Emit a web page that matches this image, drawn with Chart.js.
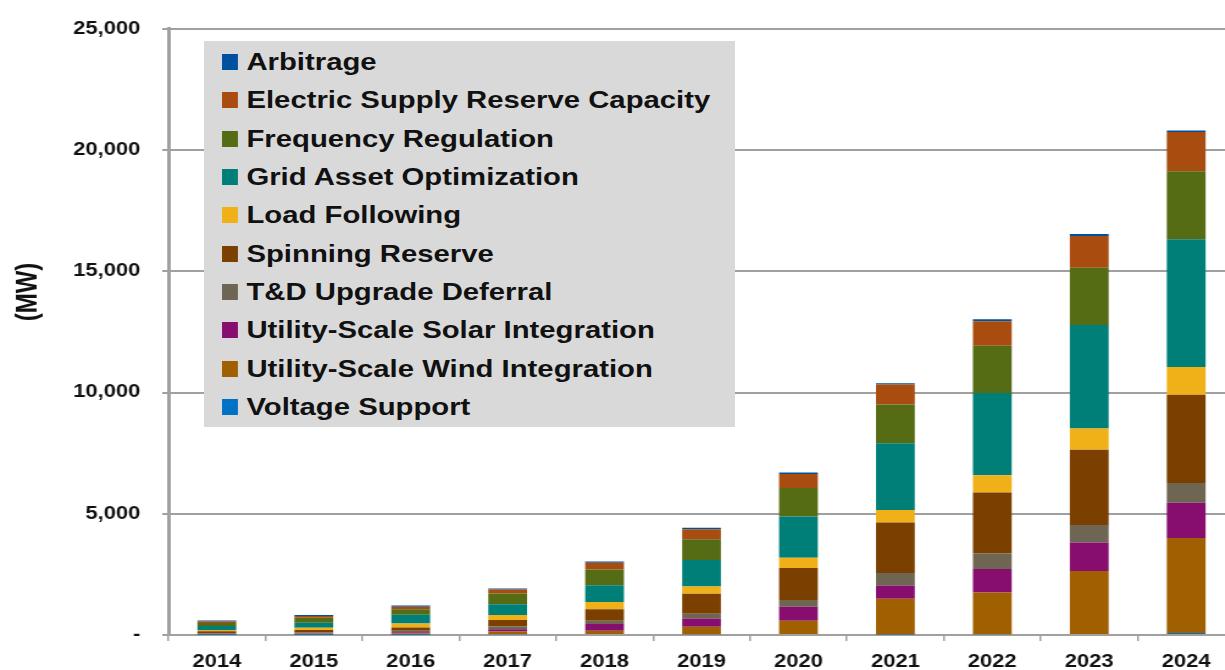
<!DOCTYPE html>
<html lang="en">
<head>
<meta charset="utf-8">
<title>Energy Storage Capacity by Application, 2014-2024</title>
<script src="https://cdn.jsdelivr.net/npm/chart.js@4.4.1/dist/chart.umd.min.js"></script>
<style>
    html, body { margin: 0; padding: 0; background: #fff; overflow: hidden; }
    body { width: 1225px; height: 670px; position: relative; }
    /* O original tem tudo esticado na horizontal (~1.22x), então o palco inteiro é esticado */
    #palco { position: absolute; left: 0; top: 0; width: 1030px; height: 670px;
             transform: scaleX(1.22); transform-origin: 0 0; }
    #graficoCapacidade { position: absolute; left: 0; top: 0; }
    #legenda { position: absolute; left: 167px; top: 41px; width: 435px; height: 386px;
               box-sizing: border-box; padding: 2px 0 0 15px; background: #d9d9d9;
               font: bold 24px "Liberation Sans", Arial, sans-serif; color: #111; }
    .item-legenda { height: 38.3px; display: flex; align-items: center; white-space: nowrap; }
    .amostra { width: 13px; height: 16px; margin-right: 7px; flex: none; }
</style>
</head>
<body>
<div id="palco">
    <canvas id="graficoCapacidade" width="1030" height="670"></canvas>
    <div id="legenda"></div>
</div>
<script>
// Dados (MW)
const anos = ['2014', '2015', '2016', '2017', '2018', '2019', '2020', '2021', '2022', '2023', '2024'];

const voltageSupport    = [10, 10, 15, 30, 40, 30, 40, 20, 30, 40, 80];
const windIntegration   = [30, 40, 45, 110, 140, 310, 550, 1480, 1720, 2600, 3920];
const solarIntegration  = [10, 20, 55, 100, 270, 340, 575, 540, 970, 1170, 1450];
const tdDeferral        = [20, 40, 60, 110, 135, 200, 275, 520, 640, 730, 820];
const spinningReserve   = [80, 100, 135, 270, 480, 820, 1325, 2080, 2520, 3100, 3640];
const loadFollowing     = [55, 90, 160, 200, 300, 300, 425, 520, 710, 880, 1140];
const gridAsset         = [165, 210, 360, 450, 685, 1090, 1695, 2750, 3390, 4260, 5270];
const frequencyReg      = [125, 205, 230, 440, 655, 860, 1175, 1600, 1950, 2370, 2810];
const supplyReserve     = [60, 65, 110, 165, 275, 410, 575, 820, 1010, 1300, 1610];
const arbitrage         = [40, 40, 45, 40, 55, 60, 65, 55, 80, 90, 70];

const ticksEixoY = [0, 5000, 10000, 15000, 20000, 25000];

const fonte = '"Liberation Sans", Arial, sans-serif';
const corGrade = '#a0a0a0';

let graficoCapacidadeInstance = null;

// Rótulo "(MW)" fica acima do centro do eixo no original, então é desenhado à mão
const rotuloEixoY = {
    id: 'rotuloEixoY',
    afterDraw(chart) {
        const ctx = chart.ctx;
        ctx.save();
        ctx.translate(23, 292);
        ctx.rotate(-Math.PI / 2);
        ctx.font = 'bold 24px ' + fonte;
        ctx.fillStyle = '#111';
        ctx.textAlign = 'center';
        ctx.textBaseline = 'middle';
        ctx.fillText('(MW)', 0, 0);
        ctx.restore();
    }
};

/**
 * @description Renderiza o gráfico de barras empilhadas por aplicação.
 */
function renderizarGraficoCapacidade() {
    const ctx = document.getElementById('graficoCapacidade').getContext('2d');
    if (graficoCapacidadeInstance) {
        graficoCapacidadeInstance.destroy();
    }
    // a ordem dos datasets é a ordem da pilha, de baixo para cima
    graficoCapacidadeInstance = new Chart(ctx, {
        type: 'bar',
        data: {
            labels: anos,
            datasets: [
                { label: 'Voltage Support', data: voltageSupport, backgroundColor: '#0072c6' },
                { label: 'Utility-Scale Wind Integration', data: windIntegration, backgroundColor: '#a05f00' },
                { label: 'Utility-Scale Solar Integration', data: solarIntegration, backgroundColor: '#870e6e' },
                { label: 'T&D Upgrade Deferral', data: tdDeferral, backgroundColor: '#6e6652' },
                { label: 'Spinning Reserve', data: spinningReserve, backgroundColor: '#7b4000' },
                { label: 'Load Following', data: loadFollowing, backgroundColor: '#f0b018' },
                { label: 'Grid Asset Optimization', data: gridAsset, backgroundColor: '#007f78' },
                { label: 'Frequency Regulation', data: frequencyReg, backgroundColor: '#556b14' },
                { label: 'Electric Supply Reserve Capacity', data: supplyReserve, backgroundColor: '#a84c10' },
                { label: 'Arbitrage', data: arbitrage, backgroundColor: '#0050a0' }
            ]
        },
        options: {
            responsive: false,
            animation: false,
            devicePixelRatio: 1,
            layout: { padding: { top: 25, right: 18, left: 0, bottom: 0 } },
            datasets: { bar: { barPercentage: 0.4, categoryPercentage: 1 } },
            scales: {
                x: {
                    stacked: true,
                    grid: { offset: true, drawOnChartArea: false, tickLength: 6, color: corGrade, lineWidth: 1.5 },
                    border: { color: corGrade, width: 2 },
                    ticks: { font: { family: fonte, size: 18, weight: 'bold' }, color: '#111', padding: 10, maxRotation: 0 },
                    afterFit(scale) { scale.height = 35; }
                },
                y: {
                    stacked: true,
                    min: 0,
                    max: 25000,
                    afterBuildTicks(scale) { scale.ticks = ticksEixoY.map(v => ({ value: v })); },
                    ticks: {
                        font: { family: fonte, size: 18, weight: 'bold' },
                        color: '#111',
                        padding: 18,
                        callback: v => v === 0 ? '-' : v.toLocaleString('en-US')
                    },
                    grid: { color: corGrade, lineWidth: 2, tickLength: 5 },
                    border: { color: corGrade, width: 3 },
                    afterFit(scale) { scale.width = 138; }
                }
            },
            plugins: {
                legend: { display: false },
                tooltip: { enabled: false }
            }
        },
        plugins: [rotuloEixoY]
    });
    montarLegenda(graficoCapacidadeInstance);
}

/**
 * @description Monta a legenda (caixa cinza) a partir dos datasets, de cima para baixo.
 * @param {Chart} grafico - instância do Chart.js
 */
function montarLegenda(grafico) {
    const legenda = document.getElementById('legenda');
    legenda.innerHTML = '';
    grafico.data.datasets.slice().reverse().forEach(ds => {
        const item = document.createElement('div');
        item.className = 'item-legenda';
        const amostra = document.createElement('span');
        amostra.className = 'amostra';
        amostra.style.background = ds.backgroundColor;
        const texto = document.createElement('span');
        texto.textContent = ds.label;
        item.appendChild(amostra);
        item.appendChild(texto);
        legenda.appendChild(item);
    });
}

renderizarGraficoCapacidade();
</script>
</body>
</html>
